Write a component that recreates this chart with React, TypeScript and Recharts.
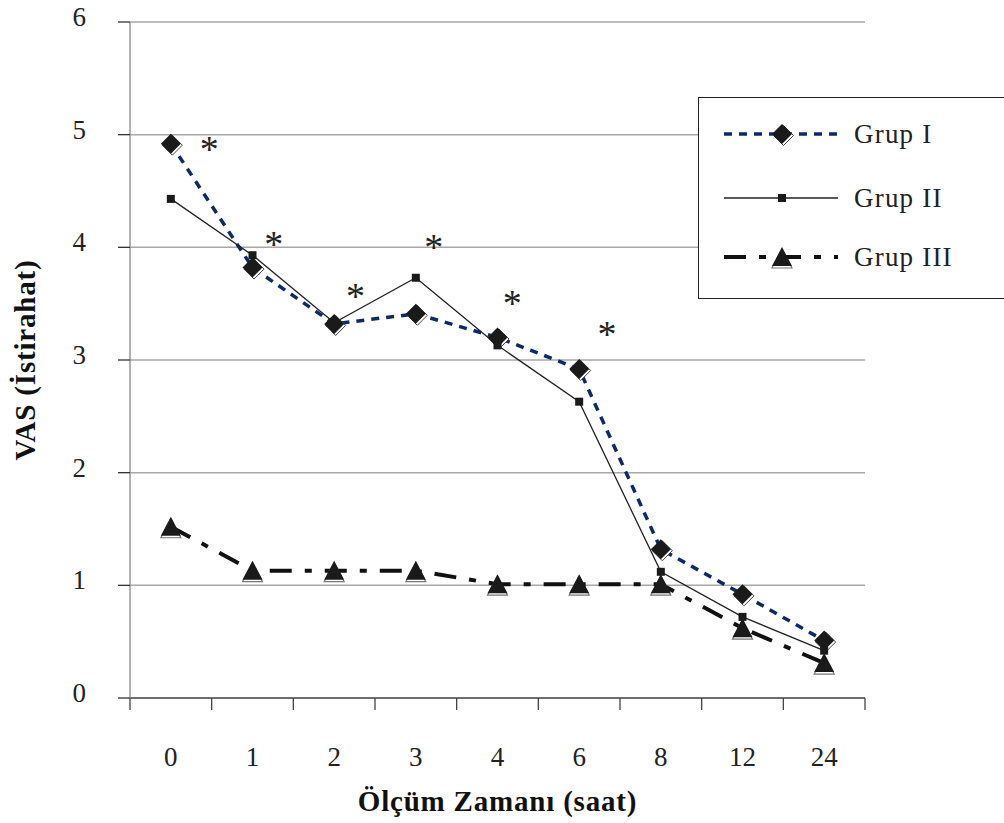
import { CartesianGrid, ComposedChart, Label, Line, Scatter, XAxis, YAxis } from "recharts";

const TIMES = ["0", "1", "2", "3", "4", "6", "8", "12", "24"];
const GRUP_I = [4.92, 3.82, 3.32, 3.41, 3.2, 2.92, 1.32, 0.92, 0.51];
const GRUP_II = [4.43, 3.93, 3.33, 3.73, 3.13, 2.63, 1.12, 0.72, 0.42];
const GRUP_III = [1.52, 1.13, 1.13, 1.13, 1.01, 1.01, 1.01, 0.62, 0.31];
// significance marks: x in category units, y in VAS units
const STAR_AT = [0.47, 1.26, 2.26, 3.22, 4.18, 5.34];
const STAR_VAS = [4.93, 4.08, 3.62, 4.06, 3.56, 3.28];
const Y_TICKS = [0, 1, 2, 3, 4, 5, 6];

const FONT = "Liberation Serif, Times New Roman, serif";
const NAVY = "#0d2a68";

const rows = TIMES.map((t, i) => ({ idx: i, time: t, g1: GRUP_I[i], g2: GRUP_II[i], g3: GRUP_III[i] }));
const stars = STAR_AT.map((x, i) => ({ idx: x, v: STAR_VAS[i] }));
// tick positions: integers carry labels, halves carry the tick marks between categories
const X_TICKS = Array.from({ length: TIMES.length * 2 + 1 }, (_, k) => k / 2 - 0.5);

function Diamond({ cx, cy }: any) {
  if (cx == null || cy == null) return null;
  const r = 10;
  const pts = (dx: number, dy: number) =>
    `${cx + dx},${cy + dy - r} ${cx + dx + r},${cy + dy} ${cx + dx},${cy + dy + r} ${cx + dx - r},${cy + dy}`;
  return (
    <g>
      <polygon points={pts(1.5, 1.5)} fill="#fff" stroke="#444" strokeWidth={1} />
      <polygon points={pts(0, 0)} fill="#1a1a1a" />
    </g>
  );
}

function Square({ cx, cy }: any) {
  if (cx == null || cy == null) return null;
  return <rect x={cx - 4} y={cy - 4} width={8} height={8} fill="#1a1a1a" />;
}

function Triangle({ cx, cy }: any) {
  if (cx == null || cy == null) return null;
  const pts = (dy: number) => `${cx},${cy - 10 + dy} ${cx + 10},${cy + 9 + dy} ${cx - 10},${cy + 9 + dy}`;
  return (
    <g>
      <polygon points={pts(2)} fill="#fff" stroke="#777" strokeWidth={1.2} />
      <polygon points={pts(0)} fill="#1a1a1a" />
    </g>
  );
}

function Star({ cx, cy }: any) {
  return (
    <text x={cx} y={cy + 19} textAnchor="middle" fontFamily={FONT} fontSize={38} fill="#222">
      *
    </text>
  );
}

function XTick({ x, y, payload }: any) {
  const v = payload.value;
  if (Number.isInteger(v)) {
    return (
      <text x={x} y={y + 59} textAnchor="middle" dominantBaseline="central" fontFamily={FONT} fontSize={27} fill="#222">
        {TIMES[v]}
      </text>
    );
  }
  return <line x1={x} x2={x} y1={y} y2={y + 12} stroke="#444" strokeWidth={1.3} />;
}

function YTick({ x, y, payload }: any) {
  return (
    <text x={x} y={y - 5} textAnchor="end" dominantBaseline="central" fontFamily={FONT} fontSize={27} fill="#222">
      {payload.value}
    </text>
  );
}

const LEGEND = [
  { name: "Grup I", stroke: NAVY, width: 3.5, dash: "8 7", Marker: Diamond },
  { name: "Grup II", stroke: "#222", width: 1.3, dash: undefined, Marker: Square },
  { name: "Grup III", stroke: "#111", width: 4, dash: "22 13 7 13", Marker: Triangle },
];

function LegendBox() {
  return (
    <div
      style={{
        position: "absolute",
        left: 698,
        top: 97,
        width: 330,
        height: 202,
        boxSizing: "border-box",
        border: "1.5px solid #222",
        background: "#fff",
      }}
    >
      <svg width={330} height={200}>
        {LEGEND.map((e, i) => {
          const y = [36, 100, 159][i];
          return (
            <g key={e.name}>
              <line x1={25} x2={139} y1={y} y2={y} stroke={e.stroke} strokeWidth={e.width} strokeDasharray={e.dash} />
              <e.Marker cx={83} cy={y} />
              <text x={155} y={y} dominantBaseline="central" fontFamily={FONT} fontSize={27} letterSpacing={1.2} fill="#222">
                {e.name}
              </text>
            </g>
          );
        })}
      </svg>
    </div>
  );
}

export default function App() {
  return (
    <div style={{ position: "absolute", left: 0, top: 0, width: 1004, height: 823, background: "#fff", fontFamily: FONT }}>
      <ComposedChart width={1004} height={823} data={rows} margin={{ top: 22, right: 139, bottom: 0, left: 0 }}>
        <CartesianGrid horizontal vertical={false} stroke="#a8a8a8" strokeWidth={1.5} />
        <XAxis
          type="number"
          dataKey="idx"
          domain={[-0.5, 8.5]}
          ticks={X_TICKS}
          interval={0}
          height={125}
          tickSize={0}
          tickMargin={0}
          tickLine={false}
          tick={<XTick />}
          axisLine={{ stroke: "#555", strokeWidth: 1.5 }}
        >
          <Label
            value="Ölçüm Zamanı (saat)"
            position="insideBottom"
            offset={12}
            style={{ fontFamily: FONT, fontSize: 29, fontWeight: 700, fill: "#111", letterSpacing: 0.8 }}
          />
        </XAxis>
        <YAxis
          type="number"
          domain={[0, 6]}
          ticks={Y_TICKS}
          width={130}
          tickSize={12}
          tickMargin={32}
          tick={<YTick />}
          tickLine={{ stroke: "#333", strokeWidth: 1.3 }}
          axisLine={{ stroke: "#999", strokeWidth: 1.5 }}
        >
          <Label
            value="VAS (İstirahat)"
            angle={-90}
            position="insideLeft"
            offset={25}
            style={{ fontFamily: FONT, fontSize: 29, fontWeight: 700, fill: "#111", textAnchor: "middle", letterSpacing: 0.8 }}
          />
        </YAxis>
        <Line
          dataKey="g3"
          stroke="#111"
          strokeWidth={4}
          strokeDasharray="22 13 7 13"
          dot={<Triangle />}
          activeDot={false}
          isAnimationActive={false}
        />
        <Line
          dataKey="g1"
          stroke={NAVY}
          strokeWidth={3.5}
          strokeDasharray="8 7"
          dot={<Diamond />}
          activeDot={false}
          isAnimationActive={false}
        />
        <Line dataKey="g2" stroke="#222" strokeWidth={1.3} dot={<Square />} activeDot={false} isAnimationActive={false} />
        <Scatter data={stars} dataKey="v" shape={<Star />} isAnimationActive={false} />
      </ComposedChart>
      <LegendBox />
    </div>
  );
}
